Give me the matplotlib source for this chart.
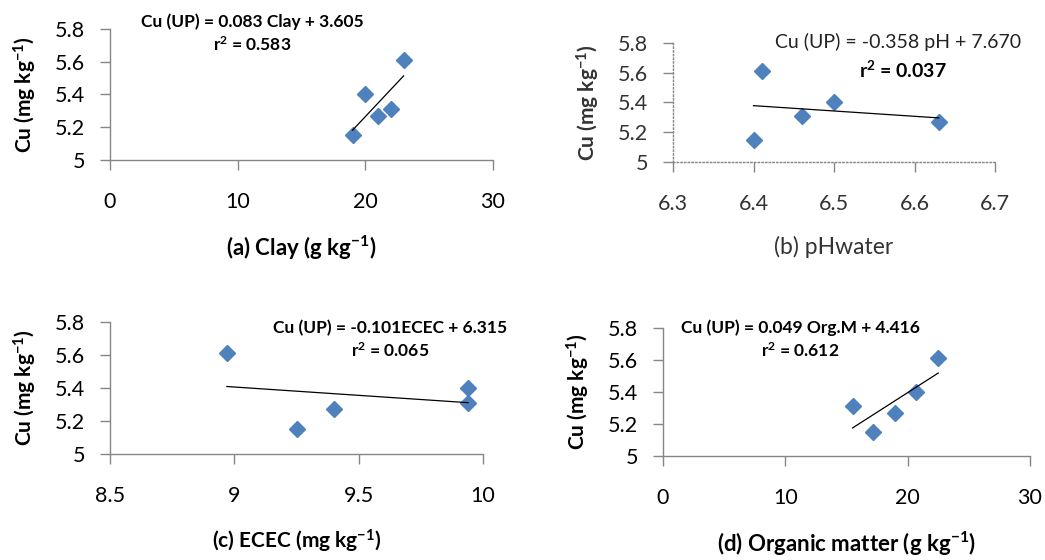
import matplotlib
matplotlib.use("Agg")
import matplotlib.pyplot as plt

plt.rcParams['font.family'] = ['Lato', 'DejaVu Sans']
plt.rcParams['mathtext.default'] = 'regular'

# data
clay = [19, 20, 21, 22, 23]
cu_clay = [5.15, 5.40, 5.27, 5.31, 5.61]
ph = [6.40, 6.41, 6.46, 6.50, 6.63]
cu_ph = [5.15, 5.61, 5.31, 5.40, 5.27]
ecec = [8.97, 9.25, 9.40, 9.94, 9.94]
cu_ecec = [5.61, 5.15, 5.27, 5.40, 5.31]
om = [15.5, 17.2, 19.0, 20.7, 22.5]
cu_om = [5.31, 5.15, 5.27, 5.40, 5.61]

slopes = [0.083, -0.358, -0.101, 0.049]
intercepts = [3.605, 7.670, 6.315, 4.416]

y_ticks = [5, 5.2, 5.4, 5.6, 5.8]
y_labels = ['5', '5.2', '5.4', '5.6', '5.8']
clay_ticks = [0, 10, 20, 30]
ph_ticks = [6.3, 6.4, 6.5, 6.6, 6.7]
ecec_ticks = [8.5, 9, 9.5, 10]
ecec_labels = ['8.5', '9', '9.5', '10']
om_ticks = [0, 10, 20, 30]

W, H = 1045, 560
fig = plt.figure(figsize=(W / 100, H / 100), dpi=100)


def box(left, top, right, bottom):
    return [left / W, 1 - bottom / H, (right - left) / W, (bottom - top) / H]


BLUE = '#4F81BD'
GREY = '#868686'


def panel(rect, x, y, k, b, xlim, xticks, xlabels, xlabel, xl_size, dotted=False):
    ax = fig.add_axes(rect)
    ax.plot(x, y, linestyle='none', marker='D', markersize=8.5, color=BLUE, zorder=2)
    xs = [min(x), max(x)]
    ax.plot(xs, [k * v + b for v in xs], color='black', lw=0.9, zorder=3)
    ax.set_xlim(xlim)
    ax.set_ylim(5, 5.8)
    ax.set_xticks(xticks)
    ax.set_xticklabels(xlabels)
    ax.set_yticks(y_ticks)
    ax.set_yticklabels(y_labels)
    for s in ['top', 'right']:
        ax.spines[s].set_visible(False)
    for s in ['left', 'bottom']:
        ax.spines[s].set_color(GREY)
        ax.spines[s].set_linewidth(1)
        if dotted:
            ax.spines[s].set_linestyle(':')
    txt = '#333333' if dotted else 'black'
    ax.tick_params(axis='both', length=7, width=1, color=GREY, labelsize=15.5, labelcolor=txt)
    ax.tick_params(axis='x', pad=16)
    ax.tick_params(axis='y', pad=11)
    ax.set_xlabel(xlabel, fontsize=xl_size, fontweight='normal' if dotted else 'bold',
                  color=txt, labelpad=16)
    ax.set_ylabel('Cu (mg kg$^{-1}$)', fontsize=15, fontweight='bold', color=txt, labelpad=11)
    ax.set_facecolor('none')
    return ax


ax1 = panel(box(110, 29, 493, 160), clay, cu_clay, slopes[0], intercepts[0],
            (0, 30), clay_ticks, ['0', '10', '20', '30'], '(a) Clay (g kg$^{-1}$)', 16)
ax2 = panel(box(673, 43, 995, 162), ph, cu_ph, slopes[1], intercepts[1],
            (6.3, 6.7), ph_ticks, ['6.3', '6.4', '6.5', '6.6', '6.7'], '(b) pHwater', 16.5,
            dotted=True)
ax3 = panel(box(110, 322, 483, 454), ecec, cu_ecec, slopes[2], intercepts[2],
            (8.5, 10), ecec_ticks, ecec_labels, '(c) ECEC (mg kg$^{-1}$)', 15)
ax4 = panel(box(663, 328, 1030, 456), om, cu_om, slopes[3], intercepts[3],
            (0, 30), om_ticks, ['0', '10', '20', '30'], '(d) Organic matter (g kg$^{-1}$)', 16)


def eq(px, py, s, ha='center', weight='bold', color='black', size=12.5):
    fig.text(px / W, 1 - py / H, s, ha=ha, va='center', fontsize=size,
             fontweight=weight, color=color)


eq(252, 22, 'Cu (UP) = 0.083 Clay + 3.605')
eq(252, 45, 'r$^{2}$ = 0.583')
eq(775, 42, 'Cu (UP) = -0.358 pH + 7.670', ha='left', weight='normal', color='#222222',
   size=14)
eq(903, 70, 'r$^{2}$ = 0.037', size=14)
eq(390, 328, 'Cu (UP) = -0.101ECEC + 6.315')
eq(390, 351, 'r$^{2}$ = 0.065')
eq(800, 328, 'Cu (UP) = 0.049 Org.M + 4.416')
eq(800, 351, 'r$^{2}$ = 0.612')

fig.savefig('out.png', dpi=100, facecolor='white')
